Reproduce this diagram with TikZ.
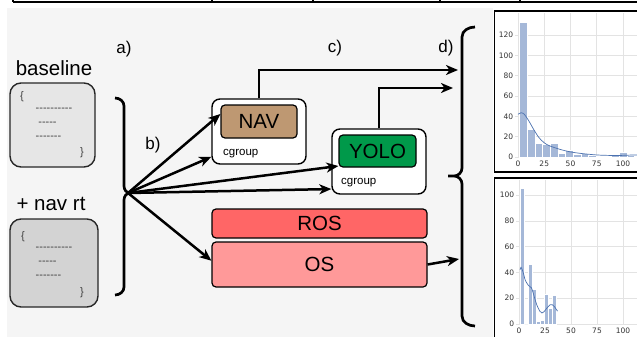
\documentclass[tikz,border=0pt]{standalone}
\usepackage{fontspec}
\setmainfont{Liberation Sans}
\newfontfamily\codefont{Liberation Sans}
\newfontfamily\plotfont{DejaVu Sans}
\usetikzlibrary{arrows.meta}
\definecolor{bggray}{HTML}{F5F5F5}
\definecolor{codegrayA}{HTML}{E6E6E6}
\definecolor{codegrayB}{HTML}{D3D3D3}
\definecolor{navbrown}{HTML}{BE9872}
\definecolor{yologreen}{HTML}{00994A}
\definecolor{rosred}{HTML}{FF6666}
\definecolor{ospink}{HTML}{FF9999}
\definecolor{barblue}{HTML}{A5B8D8}
\definecolor{kdeblue}{HTML}{4C72B0}
\definecolor{gridgray}{HTML}{E3E3E3}

\begin{document}
\begin{tikzpicture}[x=1pt,y=-1pt,
  arr/.style={line width=2.5pt,-{Stealth[length=12pt,width=10pt,inset=3.5pt]}},
  bracepath/.style={line width=2.7pt},
  codebox/.style={draw=black!85,line width=1.4pt,rounded corners=11pt,inner sep=0pt},
  codetext/.style={inner sep=0pt,text=black!75,font=\codefont\fontsize{11}{13}\selectfont},
  grpbox/.style={draw,fill=white,line width=1.4pt,rounded corners=8pt,inner sep=0pt},
  appbox/.style={draw,line width=1.2pt,rounded corners=4pt,inner sep=0pt,font=\fontsize{20.5}{24}\selectfont},
  bigtext/.style={inner sep=0pt,font=\fontsize{20.5}{24}\selectfont},
  steptext/.style={inner sep=0pt,font=\fontsize{17}{20}\selectfont},
  grptext/.style={inner sep=0pt,anchor=west,font=\fontsize{11.5}{13}\selectfont},
  ticktext/.style={inner sep=0pt,text=black!80,font=\plotfont\fontsize{7.5}{9}\selectfont},
  bar/.style={fill=barblue,draw=white,line width=0.4pt},
  kde/.style={draw=kdeblue,line width=0.7pt}]
\useasboundingbox (0,0) rectangle (637,337);

% table edge above
\draw[line width=1.3pt] (13,2) -- (640,2);
\foreach \x in {13,212,313,440,520}
  \draw[line width=1.3pt] (\x,-2) -- (\x,2);

\fill[bggray] (7,8) rectangle (493,337);

% code variants
\node[bigtext] (baselinelabel) at (54,68) {baseline};
\node[codebox,fill=codegrayA,minimum width=85pt,minimum height=84pt] (basecode) at (52.5,125) {};
\node[codetext] at (22,97) {\{};
\node[codetext] at (54,110) {----------};
\node[codetext] at (47.5,124) {-----};
\node[codetext] at (48.5,138) {-------};
\node[codetext] at (82,153) {\}};

\node[bigtext] (navrtlabel) at (51,204) {+ nav rt};
\node[codebox,fill=codegrayB,minimum width=88pt,minimum height=88pt] (navrtcode) at (54,263) {};
\node[codetext] at (23,237) {\{};
\node[codetext] at (54,249) {----------};
\node[codetext] at (47.5,263) {-----};
\node[codetext] at (48.5,277) {-------};
\node[codetext] at (82,293) {\}};

% left brace
\draw[bracepath] (115,98) to[out=0,in=90] (124,106) -- (124,186)
  to[out=-90,in=180] (130,193) to[out=180,in=90] (124,200) -- (124,287)
  to[out=-90,in=0] (115,295);
\coordinate (lbtip) at (128,193);

% step labels
\node[steptext] (stepa) at (124,49) {a)};
\node[steptext] (stepb) at (153,145) {b)};
\node[steptext] (stepc) at (335,48) {c)};
\node[steptext] (stepd) at (446,48) {d)};

% cgroups and system layers
\node[grpbox,minimum width=94pt,minimum height=65pt] (navgrp) at (259,131.5) {};
\node[appbox,fill=navbrown,minimum width=76pt,minimum height=33pt] (nav) at (259,121.5) {NAV};
\node[grptext] at (223,154) {cgroup};

\node[grpbox,minimum width=94pt,minimum height=65pt] (yologrp) at (379,161.5) {};
\node[appbox,fill=yologreen,minimum width=77pt,minimum height=32pt] (yolo) at (377.5,151) {YOLO};
\node[grptext] at (341,183) {cgroup};

\node[appbox,fill=rosred,minimum width=215pt,minimum height=29pt] (ros) at (319.5,223.5) {ROS};
\node[appbox,fill=ospink,minimum width=215pt,minimum height=45pt] (os) at (319.5,264.5) {OS};

% right brace
\draw[bracepath] (475,27) to[out=180,in=90] (462,37) -- (462,168)
  to[out=-90,in=0] (454,176) -- (448,176) -- (454,176)
  to[out=0,in=90] (462,184) -- (462,316) to[out=-90,in=180] (475,326);
\coordinate (navin) at (458,70);
\coordinate (yoloin) at (453,88);
\coordinate (osin) at (459,259);

% connectors
\draw[arr] (lbtip) -- (nav.169);
\draw[arr] (lbtip) -- (navgrp.208);
\draw[arr] (lbtip) -- (yolo.201);
\draw[arr] (lbtip) -- (yologrp.210);
\draw[arr] (lbtip) -- (os.178);
\draw[arr] (navgrp.north) |- (navin);
\draw[arr] (yologrp.north) |- (yoloin);
\draw[arr] (os.east) -- (osin);

% histogram, baseline
\draw[line width=1.3pt,fill=white] (494.5,11) rectangle (645,172);
\begin{scope}[shift={(518,157)},x=1.05pt,y=1.017pt]
  \foreach \v in {0,25,50,75,100}
    \draw[gridgray,line width=0.6pt] (\v,0) -- (\v,142);
  \foreach \v in {0,20,...,120}
    \draw[gridgray,line width=0.6pt] (-3,\v) -- (120,\v);
  \foreach \h [count=\i from 0] in {133,27,14,12.5,13.5,4,6.5,3,3.5,2,1,1,2,5,2,1}
    \draw[bar] (1.6+\i*7.3,0) rectangle ++(7.3,\h);
  \draw[kde] plot[smooth] coordinates {(0,42) (3,43.5) (6,42) (10,36) (15,27)
    (20,19) (25,14) (30,11) (40,7.5) (50,5) (60,3.5) (75,2) (90,1.5) (100,1.6) (110,2) (118,2)};
  \foreach \v in {0,20,...,120}
    \node[ticktext,anchor=east] at (-4.5,\v) {\v};
  \foreach \v in {0,25,50,75,100}
    \node[ticktext,anchor=north] at (\v,-4) {\v};
\end{scope}

% histogram, nav rt
\draw[line width=1.3pt,fill=white] (494.5,178) rectangle (645,345);
\begin{scope}[shift={(519,324)},x=1.04pt,y=1.29pt]
  \foreach \v in {0,25,50,75,100}
    \draw[gridgray,line width=0.6pt] (\v,0) -- (\v,112);
  \foreach \v in {0,20,...,100}
    \draw[gridgray,line width=0.6pt] (-3,\v) -- (120,\v);
  \foreach \h [count=\i from 0] in {105,0,46,27,2,3,23,12,22}
    \draw[bar] (1+\i*3.9,0) rectangle ++(3.9,\h);
  \draw[kde] plot[smooth] coordinates {(1,42) (2,44) (4,40) (6,34) (9,30) (12,28)
    (14,23) (17,15) (20,10) (22,8.5) (24,9.5) (27,12.5) (30,15) (32,15) (34,13.5) (37,10)};
  \foreach \v in {0,20,...,100}
    \node[ticktext,anchor=east] at (-4.5,\v) {\v};
  \foreach \v in {0,25,50,75,100}
    \node[ticktext,anchor=north] at (\v,-3) {\v};
\end{scope}
\end{tikzpicture}
\end{document}
